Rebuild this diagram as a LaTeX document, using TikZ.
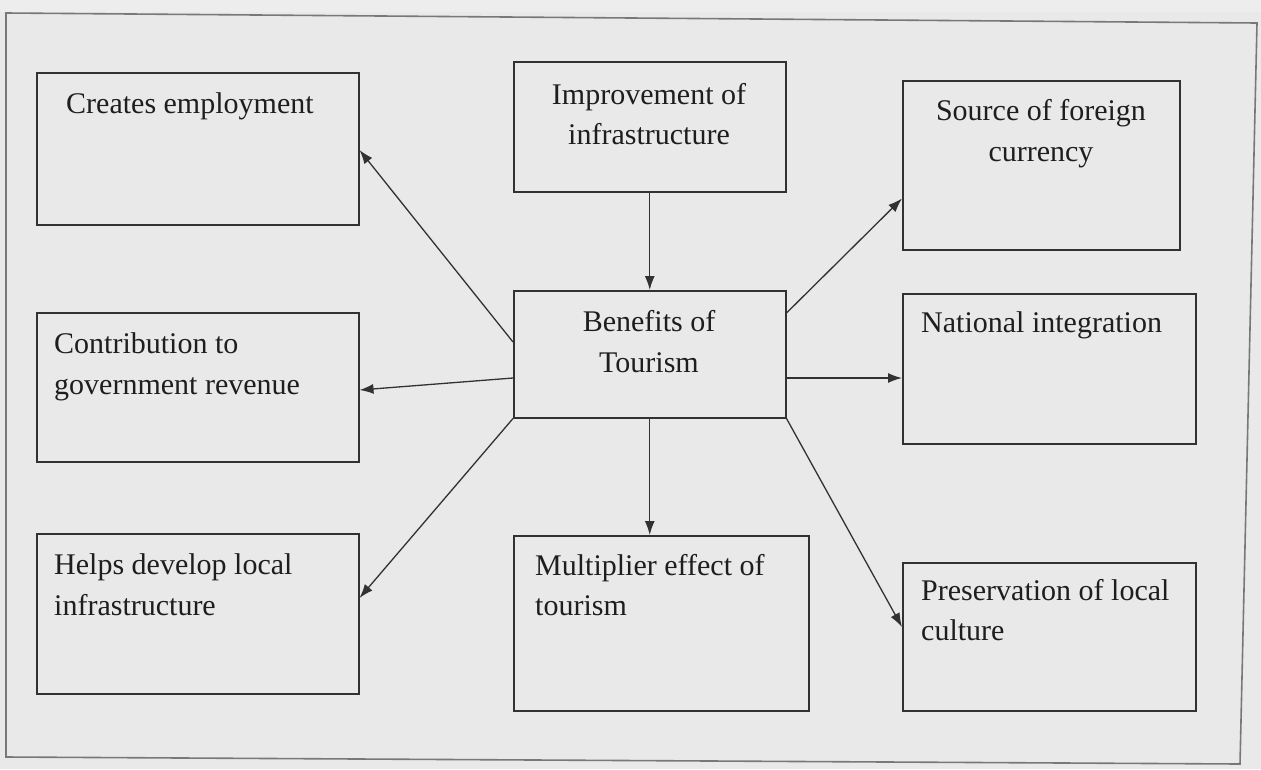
\documentclass[tikz,border=0pt]{standalone}
\usepackage{fontspec}
\setmainfont{Liberation Serif}
\usetikzlibrary{arrows.meta,calc}
\definecolor{bg}{RGB}{233,233,233}
\definecolor{linec}{RGB}{50,50,50}
\definecolor{framec}{RGB}{120,120,120}
\definecolor{txtc}{RGB}{30,30,30}
\tikzset{
  box/.style={draw=linec, line width=1.5pt, inner sep=0pt, anchor=north west},
  txt/.style={font=\fontsize{30}{41}\selectfont, text=txtc, inner sep=0pt},
  arr/.style={draw=linec, line width=1.3pt, -{Latex[length=14pt,width=10pt]}}
}
\begin{document}
\begin{tikzpicture}[x=1pt,y=-1pt]
\useasboundingbox (0,0) rectangle (1261,769);
\fill[bg] (0,0) rectangle (1261,769);
\fill[black!6, opacity=0.6] (0,0) rectangle (1261,12);
% outer frame (slightly skewed scan)
\draw[framec, line width=1.6pt] (6,13) -- (1257,23) -- (1240,764) -- (6,757) -- cycle;

% boxes
\node[box, minimum width=322pt, minimum height=152pt] (ce)  at (36,72) {};
\node[box, minimum width=272pt, minimum height=130pt] (imp) at (513,61) {};
\node[box, minimum width=277pt, minimum height=169pt] (src) at (902,80) {};
\node[box, minimum width=272pt, minimum height=127pt] (ben) at (513,290) {};
\node[box, minimum width=293pt, minimum height=150pt] (nat) at (902,293) {};
\node[box, minimum width=322pt, minimum height=149pt] (con) at (36,312) {};
\node[box, minimum width=322pt, minimum height=160pt] (hlp) at (36,533) {};
\node[box, minimum width=295pt, minimum height=175pt] (mul) at (513,535) {};
\node[box, minimum width=293pt, minimum height=148pt] (pre) at (902,562) {};

% texts
\node[txt, anchor=base west] (tce) at (66,113) {Creates employment};
\node[txt, anchor=base] (timp1) at (649,104) {Improvement of};
\node[txt, anchor=base] (timp2) at (649,144) {infrastructure};
\node[txt, anchor=base] (tsrc1) at (1041,120) {Source of foreign};
\node[txt, anchor=base] (tsrc2) at (1041,161) {currency};
\node[txt, anchor=base] (tben1) at (649,331) {Benefits of};
\node[txt, anchor=base] (tben2) at (649,372) {Tourism};
\node[txt, anchor=base west] (tnat) at (921,332) {National integration};
\node[txt, anchor=base west] (tcon1) at (54,353) {Contribution to};
\node[txt, anchor=base west] (tcon2) at (54,394) {government revenue};
\node[txt, anchor=base west] (thlp1) at (54,574) {Helps develop local};
\node[txt, anchor=base west] (thlp2) at (54,615) {infrastructure};
\node[txt, anchor=base west] (tmul1) at (535,575) {Multiplier effect of};
\node[txt, anchor=base west] (tmul2) at (535,615) {tourism};
\node[txt, anchor=base west] (tpre1) at (921,600) {Preservation of local};
\node[txt, anchor=base west] (tpre2) at (921,640) {culture};

% connectors
\draw[arr] (imp.south) -- (ben.north);
\draw[arr] ([yshift=-52pt]ben.north west) -- ([yshift=-78pt]ce.north east);
\draw[arr] ([yshift=-88pt]ben.north west) -- ([yshift=-78pt]con.north east);
\draw[arr] (ben.south west) -- ([yshift=-65pt]hlp.north east);
\draw[arr] (ben.south) -- (ben.south |- mul.north);
\draw[arr] ([yshift=-23pt]ben.north east) -- ([yshift=52pt]src.south west);
\draw[arr] ([yshift=-88pt]ben.north east) -- ([yshift=-85pt]nat.north west);
\draw[arr] (ben.south east) -- ([yshift=-65pt]pre.north west);
\end{tikzpicture}
\end{document}
